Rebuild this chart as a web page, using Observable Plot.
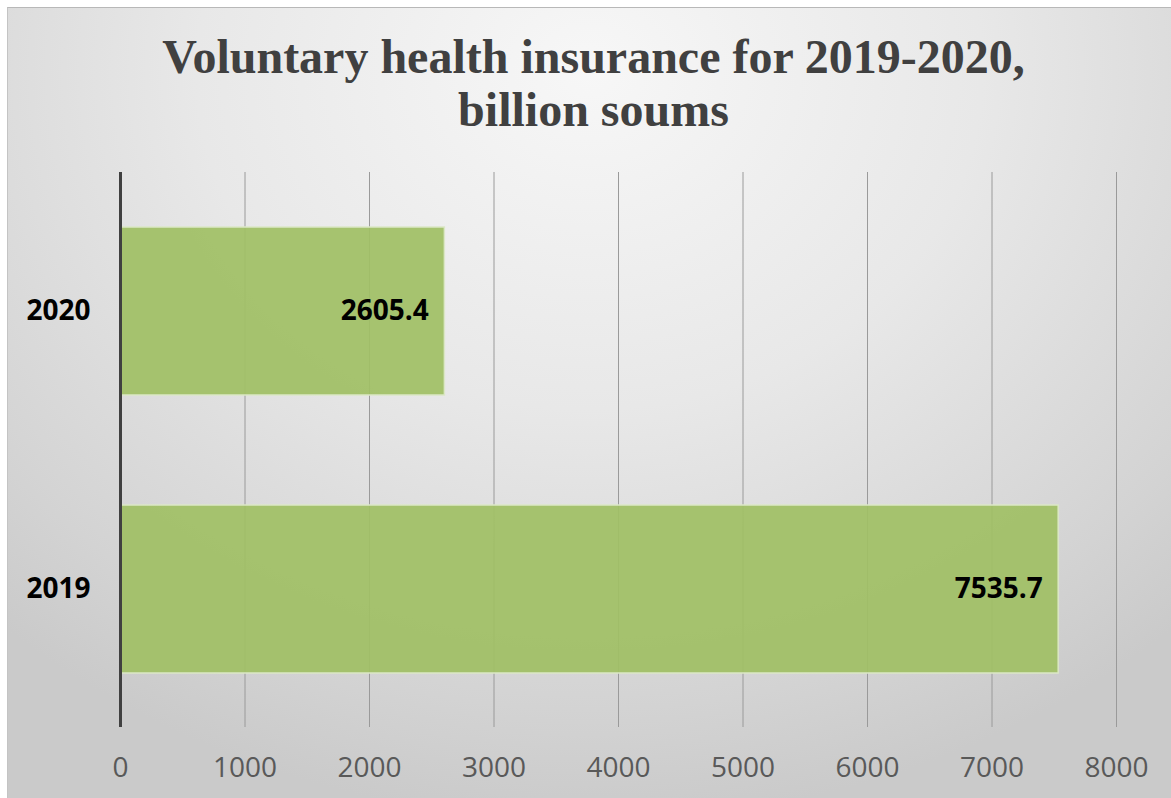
<!DOCTYPE html>
<html>
<head>
<meta charset="utf-8">
<script src="https://cdn.jsdelivr.net/npm/d3@7"></script>
<script src="https://cdn.jsdelivr.net/npm/@observablehq/plot@0.6"></script>
<style>
  html, body { margin: 0; padding: 0; background: #ffffff; }
  #page {
    position: absolute; left: 7px; top: 7px; width: 1164px; height: 791px;
    box-sizing: border-box;
    border-top: 1px solid #b8b8b8; border-left: 1px solid #c4c4c4;
    background: radial-gradient(ellipse 75% 95% at 50% 8%, #f7f7f7 0%, #e8e8e8 45%, #d3d3d3 85%, #cacaca 100%);
    overflow: hidden;
  }
  #title {
    position: absolute; left: 0px; top: 0; width: 1171px; height: 136px;
    font-family: "Liberation Serif", "Times New Roman", serif; font-weight: bold;
    font-size: 48px; line-height: 53px; color: #404040; text-align: center;
    padding-top: 22px; box-sizing: border-box;
  }
  #chart { position: absolute; left: -8px; top: 136px; }
</style>
</head>
<body>
<div id="page">
  <div id="title">Voluntary health insurance for 2019-2020,<br>billion soums</div>
  <div id="chart"></div>
</div>
<script>
const years = ["2020", "2019"];
const values = [2605.4, 7535.7];
const xTicks = [0, 1000, 2000, 3000, 4000, 5000, 6000, 7000, 8000];

const data = years.map((y, i) => ({year: y, value: values[i]}));

const chart = Plot.plot({
  width: 1171,
  height: 654,
  marginLeft: 120,
  marginRight: 55,
  marginTop: 28,
  marginBottom: 71,
  style: {background: "transparent", fontFamily: "'Open Sans', sans-serif", fontSize: "28px", overflow: "visible"},
  x: {domain: [0, 8000], ticks: xTicks, label: null},
  y: {domain: years, paddingInner: 0.397, paddingOuter: 0.194, label: null},
  marks: [
    Plot.gridX(xTicks.filter(d => d > 0), {stroke: "#9a9a9a", strokeOpacity: 1, strokeWidth: 1}),
    Plot.barX(data, {x: "value", y: "year", fill: "#a0bf65", fillOpacity: 0.93, stroke: "#dbe7c6", strokeWidth: 1.5}),
    Plot.ruleX([0], {stroke: "#404040", strokeWidth: 3}),
    Plot.axisX({ticks: xTicks, tickSize: 0, tickPadding: 30, fontSize: 28, fill: "#595959", tickFormat: d => String(d), label: null}),
    Plot.axisY({tickSize: 0, tickPadding: 30, fontSize: 28, fontWeight: "bold", fill: "#000", label: null}),
    Plot.text(data, {x: "value", y: "year", text: d => d.value.toFixed(1), textAnchor: "end", dx: -16, fontSize: 28, fontWeight: "bold", fill: "#000"})
  ]
});
document.getElementById("chart").appendChild(chart);
</script>
</body>
</html>
